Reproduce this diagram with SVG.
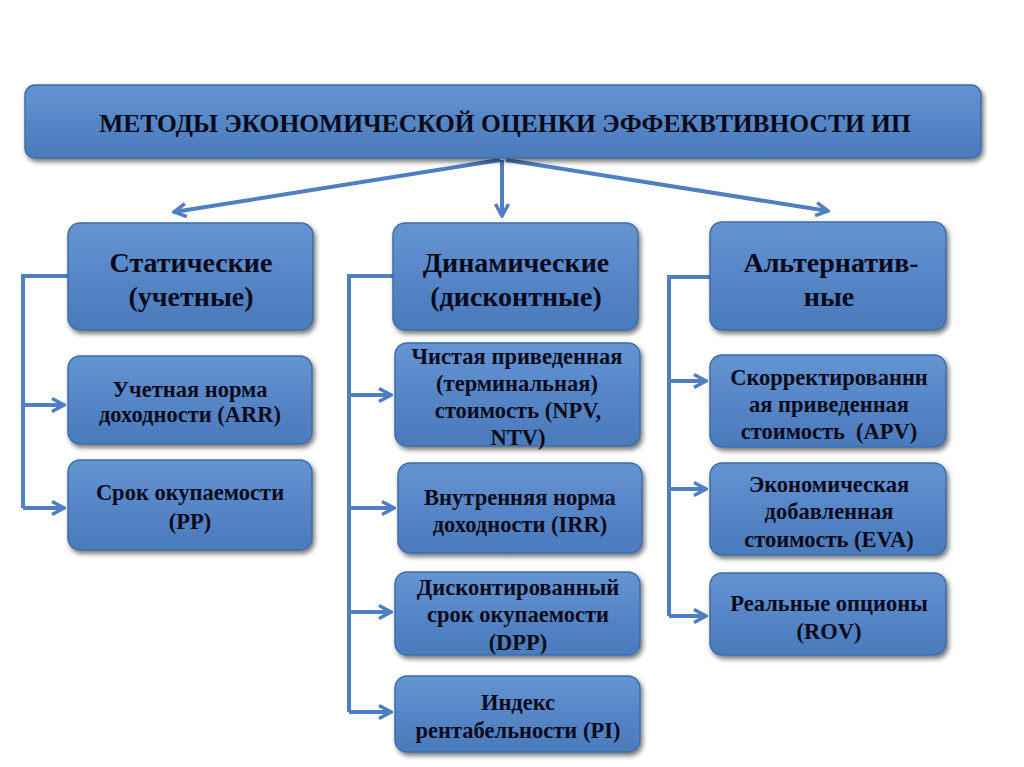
<svg xmlns="http://www.w3.org/2000/svg" width="1024" height="767" viewBox="0 0 1024 767">
<defs>
<linearGradient id="g" x1="0" y1="0" x2="0" y2="1">
<stop offset="0" stop-color="#6594d2"/>
<stop offset="0.5" stop-color="#5686c6"/>
<stop offset="1" stop-color="#4a7abb"/>
</linearGradient>
<filter id="sh" x="-10%" y="-10%" width="130%" height="140%">
<feGaussianBlur in="SourceAlpha" stdDeviation="2.5"/>
<feOffset dx="2" dy="3" result="b"/>
<feComponentTransfer><feFuncA type="linear" slope="0.55"/></feComponentTransfer>
<feMerge><feMergeNode/><feMergeNode in="SourceGraphic"/></feMerge>
</filter>
<marker id="ah" viewBox="0 0 16 16" refX="14" refY="8" markerWidth="16" markerHeight="16" markerUnits="userSpaceOnUse" orient="auto">
<path d="M2,1.5 L14,8 L2,14.5" fill="none" stroke="#4f7fc0" stroke-width="3.5"/>
</marker>
</defs>
<style>
.box{fill:url(#g);stroke:#3e6ea8;stroke-width:1.5;filter:url(#sh)}
.t{font-family:"Liberation Serif","Times New Roman",serif;font-weight:bold;fill:#0a0a1a;text-anchor:middle}
.h{font-size:28px}
.s{font-size:22.5px}
.c{fill:none;stroke:#4f7fc0;stroke-width:4}
.a{fill:none;stroke:#4f7fc0;stroke-width:4;marker-end:url(#ah)}
</style>
<rect width="1024" height="767" fill="#ffffff"/>
<g id="connectors">
<line class="a" x1="500" y1="160" x2="174" y2="212"/>
<line class="a" x1="502" y1="160" x2="502" y2="216"/>
<line class="a" x1="506" y1="160" x2="828" y2="211"/>
<polyline class="c" points="68,276 23,276 23,508"/>
<line class="a" x1="23" y1="405" x2="64" y2="405"/>
<line class="a" x1="23" y1="508" x2="64" y2="508"/>
<polyline class="c" points="393,276 349,276 349,712"/>
<line class="a" x1="349" y1="395" x2="391" y2="395"/>
<line class="a" x1="349" y1="508" x2="394" y2="508"/>
<line class="a" x1="349" y1="612" x2="391" y2="612"/>
<line class="a" x1="349" y1="712" x2="391" y2="712"/>
<polyline class="c" points="710,277 669,277 669,616"/>
<line class="a" x1="669" y1="381" x2="706" y2="381"/>
<line class="a" x1="669" y1="489" x2="706" y2="489"/>
<line class="a" x1="669" y1="616" x2="706" y2="616"/>
</g>
<g id="root">
<rect class="box" x="25" y="85" width="956" height="73" rx="10"/>
<text class="t" x="505" y="132" font-size="25.5">МЕТОДЫ ЭКОНОМИЧЕСКОЙ ОЦЕНКИ ЭФФЕКВТИВНОСТИ ИП</text>
</g>
<g id="static">
<rect class="box" x="68" y="223" width="245" height="107" rx="12"/>
<text class="t h" x="191" y="272">Статические</text>
<text class="t h" x="191" y="306">(учетные)</text>
</g>
<g id="arr">
<rect class="box" x="68" y="356" width="244" height="88" rx="12"/>
<text class="t s" x="190" y="397">Учетная норма</text>
<text class="t s" x="190" y="422">доходности (ARR)</text>
</g>
<g id="pp">
<rect class="box" x="68" y="460" width="244" height="90" rx="12"/>
<text class="t s" x="190" y="500">Срок окупаемости</text>
<text class="t s" x="190" y="529">(PP)</text>
</g>
<g id="dynamic">
<rect class="box" x="393" y="223" width="245" height="107" rx="12"/>
<text class="t h" x="516" y="272">Динамические</text>
<text class="t h" x="516" y="306">(дисконтные)</text>
</g>
<g id="npv">
<rect class="box" x="395" y="343" width="245" height="103" rx="12"/>
<text class="t s" x="517" y="364">Чистая приведенная</text>
<text class="t s" x="517" y="391">(терминальная)</text>
<text class="t s" x="518" y="418">стоимость (NPV,</text>
<text class="t s" x="518" y="445">NTV)</text>
</g>
<g id="irr">
<rect class="box" x="398" y="463" width="244" height="90" rx="12"/>
<text class="t s" x="520" y="505">Внутренняя норма</text>
<text class="t s" x="520" y="532">доходности (IRR)</text>
</g>
<g id="dpp">
<rect class="box" x="395" y="572" width="245" height="83" rx="12"/>
<text class="t s" x="518" y="595">Дисконтированный</text>
<text class="t s" x="518" y="622">срок окупаемости</text>
<text class="t s" x="518" y="650">(DPP)</text>
</g>
<g id="pi">
<rect class="box" x="395" y="676" width="245" height="76" rx="12"/>
<text class="t s" x="518" y="710">Индекс</text>
<text class="t s" x="518" y="738">рентабельности (PI)</text>
</g>
<g id="alt">
<rect class="box" x="710" y="222" width="236" height="108" rx="12"/>
<text class="t h" x="831" y="272">Альтернатив-</text>
<text class="t h" x="829" y="306">ные</text>
</g>
<g id="apv">
<rect class="box" x="710" y="355" width="236" height="92" rx="12"/>
<text class="t s" x="829" y="385">Скорректированнн</text>
<text class="t s" x="829" y="412">ая приведенная</text>
<text class="t s" x="829" y="439" xml:space="preserve">стоимость  (APV)</text>
</g>
<g id="eva">
<rect class="box" x="710" y="463" width="236" height="92" rx="12"/>
<text class="t s" x="829" y="492">Экономическая</text>
<text class="t s" x="829" y="519">добавленная</text>
<text class="t s" x="829" y="547">стоимость (EVA)</text>
</g>
<g id="rov">
<rect class="box" x="710" y="573" width="236" height="82" rx="12"/>
<text class="t s" x="829" y="611">Реальные опционы</text>
<text class="t s" x="829" y="639">(ROV)</text>
</g>
</svg>
